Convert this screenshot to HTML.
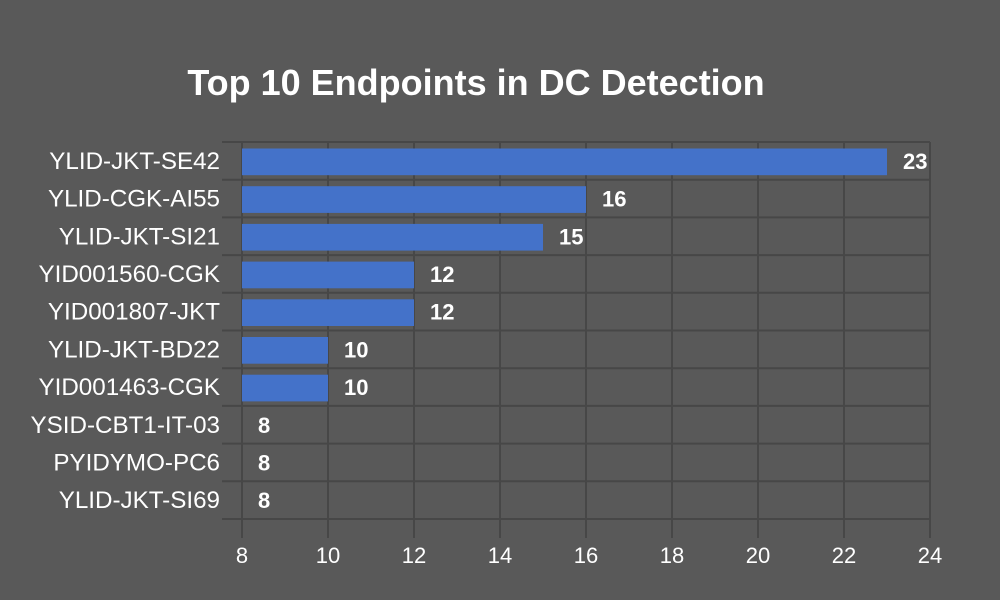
<!DOCTYPE html>
<html><head><meta charset="utf-8"><style>
body{margin:0;background:#595959;}
svg{display:block;font-family:"Liberation Sans",sans-serif;}
</style></head><body>
<svg id="c" width="1000" height="600">
<rect width="1000" height="600" fill="#595959"/>
<text x="476" y="95" text-anchor="middle" font-size="36" font-weight="bold" fill="#fff">Top 10 Endpoints in DC Detection</text>
<g id="grid"></g><g id="bars"></g><g id="labels"></g>
</svg>
<script>
const categories=["YLID-JKT-SE42","YLID-CGK-AI55","YLID-JKT-SI21","YID001560-CGK","YID001807-JKT","YLID-JKT-BD22","YID001463-CGK","YSID-CBT1-IT-03","PYIDYMO-PC6","YLID-JKT-SI69"];
const values=[23,16,15,12,12,10,10,8,8,8];
const ticks=[8,10,12,14,16,18,20,22,24];
const NS="http://www.w3.org/2000/svg";
const x0=242,x1=930,y0=142,y1=519,vmin=8,vmax=24;
const xs=v=>x0+(v-vmin)/(vmax-vmin)*(x1-x0);
const rh=(y1-y0)/categories.length;
const ys=i=>y0+i*rh;
function mk(t,a,p){const e=document.createElementNS(NS,t);for(const k in a)e.setAttribute(k,a[k]);p.appendChild(e);return e;}
const g=document.getElementById('grid'),b=document.getElementById('bars'),l=document.getElementById('labels');
ticks.forEach(t=>{
 const ln=mk('line',{x1:xs(t),x2:xs(t),y1:y0,y2:538,stroke:'#474747','stroke-width':2},g);
 
 
 const tx=mk('text',{x:xs(t),y:563,'text-anchor':'middle','font-size':22,fill:'#fff'},l);
 tx.textContent=t;
 
 
});
for(let i=0;i<=categories.length;i++){
 const ln=mk('line',{x1:222,x2:x1,y1:ys(i),y2:ys(i),stroke:'#474747','stroke-width':2},g);
 
 
}
categories.forEach((c,i)=>{
 const v=values[i];
 const r=mk('rect',{x:x0,y:ys(i)+6.5,width:Math.max(0,xs(v)-x0),height:rh-11,fill:'#4472c9'},b);
 
 
 const ct=mk('text',{x:220,y:ys(i)+rh/2+8,'text-anchor':'end','font-size':24.2,fill:'#fff'},l);
 ct.textContent=c;
 
 
 const vt=mk('text',{x:xs(v)+16,y:ys(i)+rh/2+8,'font-size':22,'font-weight':'bold',fill:'#fff'},l);
 vt.textContent=v;
 
 
});
</script>
</body></html>
